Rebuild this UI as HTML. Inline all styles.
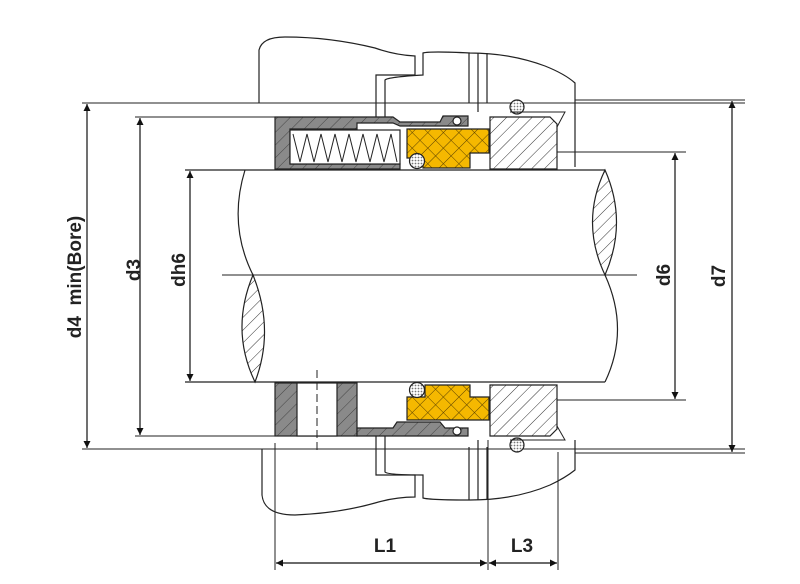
<!DOCTYPE html>
<html><head><meta charset="utf-8"><style>
html,body{margin:0;padding:0;background:#fff;}
svg{display:block;}
text{font-family:"Liberation Sans",Arial,sans-serif;font-size:19px;font-weight:bold;fill:#222;}
</style></head><body>
<svg width="800" height="584" viewBox="0 0 800 584" xmlns="http://www.w3.org/2000/svg">
<defs>
<pattern id="h" width="9" height="9" patternUnits="userSpaceOnUse" patternTransform="rotate(45)">
<rect width="9" height="9" fill="#fff"/><line x1="0" y1="0" x2="0" y2="9" stroke="#333" stroke-width="1"/></pattern>
<pattern id="hg" width="9" height="9" patternUnits="userSpaceOnUse" patternTransform="rotate(45)">
<rect width="9" height="9" fill="#8a8a8a"/><line x1="0" y1="0" x2="0" y2="9" stroke="#444" stroke-width="1"/></pattern>
<pattern id="y" width="11" height="11" patternUnits="userSpaceOnUse" patternTransform="rotate(45)">
<rect width="11" height="11" fill="#f5b800"/><line x1="0" y1="0" x2="0" y2="11" stroke="#5a4000" stroke-width="1"/><line x1="0" y1="0" x2="11" y2="0" stroke="#5a4000" stroke-width="1"/></pattern>
<pattern id="o" width="3" height="3" patternUnits="userSpaceOnUse"><rect width="3" height="3" fill="#fff"/><circle cx="1.5" cy="1.5" r="0.9" fill="#777"/></pattern>
<marker id="a" viewBox="0 0 10 10" refX="10" refY="5" markerWidth="7" markerHeight="14" orient="auto-start-reverse" markerUnits="userSpaceOnUse"><path d="M0,0 L10,5 L0,10z" fill="#111"/></marker>
</defs>
<g fill="none" stroke="#222" stroke-width="1.2">
<path d="M259,103 L259,50 Q262,37 285,37 Q330,37 375,48 Q395,55 415,56 L415,75 L376,75 L376,117"/>
<path d="M385,117 L385,80 Q388,77 423,75 L423,53 Q430,51 470,53 Q510,53 545,66 Q565,74 575,83 L575,167"/>
<line x1="469" y1="53" x2="469" y2="103"/><line x1="478" y1="53" x2="478" y2="112"/><line x1="487" y1="53" x2="487" y2="103"/>
<path d="M262,449 L262,495 Q264,515 295,515 Q340,513 375,503 Q395,497 415,497 L415,475 L376,475 L376,436"/>
<path d="M385,436 L385,472 Q388,475 423,475 L423,498 Q430,500 470,500 Q515,500 550,485 Q565,478 575,470 L575,440"/>
<line x1="469" y1="500" x2="469" y2="447"/><line x1="478" y1="500" x2="478" y2="440"/><line x1="487" y1="500" x2="487" y2="447"/>
<line x1="82" y1="103" x2="745" y2="103" stroke-width="1"/>
<line x1="82" y1="449" x2="745" y2="449" stroke-width="1"/>
<line x1="135" y1="117" x2="275" y2="117" stroke-width="1"/>
<line x1="135" y1="436" x2="275" y2="436" stroke-width="1"/>
<line x1="557" y1="152" x2="686" y2="152" stroke-width="1"/>
<line x1="557" y1="400" x2="686" y2="400" stroke-width="1"/>
<line x1="575" y1="100" x2="745" y2="100" stroke-width="1"/>
<line x1="575" y1="453" x2="745" y2="453" stroke-width="1"/>
<line x1="222" y1="275" x2="637" y2="275" stroke-width="1"/>
<line x1="185" y1="170" x2="605" y2="170"/>
<line x1="185" y1="382" x2="605" y2="382"/>
<path d="M245,170 Q228,225 253,275"/>
<path d="M253,275 Q230,330 255,382 Q275,330 253,275z" fill="url(#h)"/>
<path d="M605,170 Q580,222 605,275 Q628,222 605,170z" fill="url(#h)"/>
<path d="M605,275 Q630,330 605,382"/>
<path d="M275,117 L393,117 L400,122 L440,122 L443,116 L468,116 L468,126 L400,126 L393,123 L357,123 L357,129 L290,129 L290,164 L400,164 L400,169 L275,169z" fill="url(#hg)"/>
<rect x="290" y="130" width="110" height="34" fill="#fff"/>
<polyline points="293,134 300,162 307,134 314,162 321,134 328,162 335,134 342,162 349,134 356,162 363,134 370,162 377,134 384,162 391,134 397,162" stroke-width="1"/>
<path d="M407,129 L489,129 L489,153 L470,153 L470,168 L423,168 L423,158 L407,158z" fill="url(#y)"/>
<circle cx="417" cy="161" r="7.5" fill="url(#o)"/>
<circle cx="457" cy="121" r="4" fill="#fff"/>
<path d="M490,117 L550,117 L557,124 L557,169 L490,169z" fill="url(#h)"/>
<circle cx="517" cy="107" r="7" fill="url(#o)"/>
<polyline points="510,112 565,112 557,127" stroke-width="1"/>
<rect x="275" y="383" width="82" height="53" fill="url(#hg)"/>
<rect x="297" y="383" width="40" height="53" fill="#fff"/>
<line x1="317" y1="370" x2="317" y2="450" stroke-dasharray="8,4" stroke-width="1"/>
<path d="M357,428 L393,428 L397,422 L440,422 L445,428 L468,428 L468,436 L357,436z" fill="url(#hg)"/>
<path d="M425,385 L470,385 L470,397 L489,397 L489,420 L407,420 L407,397 L425,397z" fill="url(#y)"/>
<circle cx="417" cy="390" r="7.5" fill="url(#o)"/>
<circle cx="457" cy="431" r="4" fill="#fff"/>
<path d="M490,385 L557,385 L557,429 L550,436 L490,436z" fill="url(#h)"/>
<circle cx="517" cy="445" r="7" fill="url(#o)"/>
<polyline points="510,440 565,440 557,426" stroke-width="1"/>
<line x1="275" y1="443" x2="275" y2="570" stroke-width="1"/>
<line x1="488" y1="440" x2="488" y2="570" stroke-width="1"/>
<line x1="558" y1="452" x2="558" y2="570" stroke-width="1"/>
</g>
<g stroke="#111" stroke-width="1.2" fill="none">
<line x1="87" y1="104" x2="87" y2="448" marker-start="url(#a)" marker-end="url(#a)"/>
<line x1="140" y1="118" x2="140" y2="435" marker-start="url(#a)" marker-end="url(#a)"/>
<line x1="190" y1="171" x2="190" y2="381" marker-start="url(#a)" marker-end="url(#a)"/>
<line x1="675" y1="153" x2="675" y2="399" marker-start="url(#a)" marker-end="url(#a)"/>
<line x1="732" y1="101" x2="732" y2="452" marker-start="url(#a)" marker-end="url(#a)"/>
<line x1="276" y1="563" x2="487" y2="563" marker-start="url(#a)" marker-end="url(#a)"/>
<line x1="489" y1="563" x2="557" y2="563" marker-start="url(#a)" marker-end="url(#a)"/>
</g>
<text transform="translate(81,277) rotate(-90)" text-anchor="middle" xml:space="preserve">d4  min(Bore)</text>
<text transform="translate(140,270) rotate(-90)" text-anchor="middle">d3</text>
<text transform="translate(185,270) rotate(-90)" text-anchor="middle">dh6</text>
<text transform="translate(670,275) rotate(-90)" text-anchor="middle">d6</text>
<text transform="translate(725,276) rotate(-90)" text-anchor="middle">d7</text>
<text x="385" y="552" text-anchor="middle">L1</text>
<text x="522" y="552" text-anchor="middle">L3</text>
</svg>
</body></html>
